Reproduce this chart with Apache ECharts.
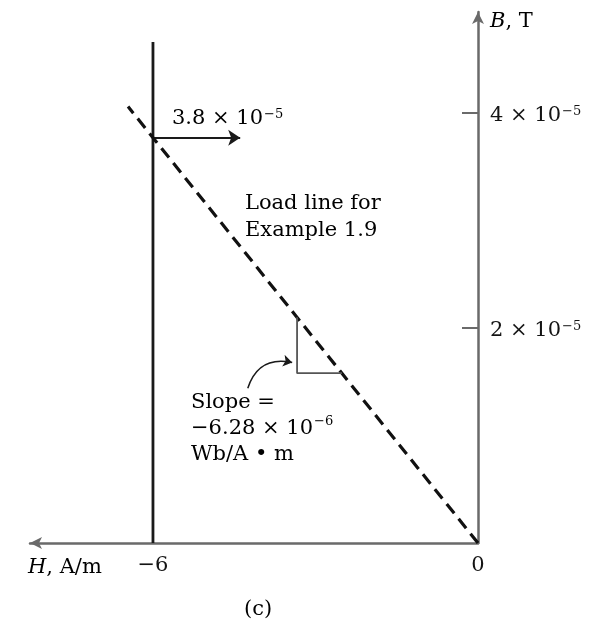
<!DOCTYPE html>
<html><head><meta charset="utf-8">
<script src="https://cdn.jsdelivr.net/npm/echarts@6/dist/echarts.min.js"></script>
<style>html,body{margin:0;padding:0;background:#fff}#c{width:601px;height:626px}</style>
</head><body><div id="c"></div>
<script>
// ---- data ----
const xTickValues = [-6, 0];
const xTickLabels = ['−6', '0'];
const yTickValues = [2e-5, 4e-5];
const yTickMantissa = ['2', '4'];
const yTickExponent = ['−5', '−5'];
const fieldH = [-6, -6];
const fieldB = [0, 4.66e-5];
const loadLineH = [0, -6.46];
const loadLineB = [0, 4.06e-5];
const slopeTriH = [-3.34, -3.34, -2.51];
const slopeTriB = [2.10e-5, 1.58e-5, 1.58e-5];
const markerH = [-6, -4.39];
const markerB = [3.77e-5, 3.77e-5];
const pointerH = [-4.25, -3.43];
const pointerB = [1.44e-5, 1.68e-5];
const xRange = [-8.27, 0];
const yRange = [0, 4.94e-5];

const FONT = '"DejaVu Serif", "Liberation Serif", serif';
const TXT = '#141414';
const FS = 21;
const richBase = {
  n: {fontFamily: FONT, fontSize: FS, color: TXT},
  i: {fontFamily: FONT, fontSize: FS, color: TXT, fontStyle: 'italic'},
  s: {fontFamily: FONT, fontSize: 13, color: TXT, verticalAlign: 'top', padding: [0, 0, 0, 1]}
};
const zip = (a, b) => a.map((v, k) => [v, b[k]]);

const chart = echarts.init(document.getElementById('c'), null, {renderer: 'canvas'});
chart.setOption({
  animation: false,
  backgroundColor: '#fff',
  grid: {left: 30, right: 123, top: 12, bottom: 83, containLabel: false, outerBoundsMode: 'none'},
  xAxis: {
    type: 'value', min: xRange[0], max: xRange[1],
    splitLine: {show: false},
    axisTick: {show: false},
    axisLine: {onZero: true, lineStyle: {color: '#6a6a6a', width: 2.5}, symbol: ['arrow', 'none'], symbolSize: [9, 12]},
    axisLabel: {
      customValues: xTickValues, margin: 12,
      formatter: v => '{n|' + xTickLabels[xTickValues.indexOf(v)] + '}',
      rich: richBase
    }
  },
  yAxis: {
    type: 'value', position: 'right', min: yRange[0], max: yRange[1], interval: 2e-5,
    splitLine: {show: false},
    axisLine: {lineStyle: {color: '#6a6a6a', width: 2.5}, symbol: ['none', 'arrow'], symbolSize: [9, 12]},
    axisTick: {customValues: yTickValues, inside: true, length: 16, lineStyle: {color: '#6a6a6a', width: 2}},
    axisLabel: {
      customValues: yTickValues, margin: 12, padding: [6, 0, 0, 0],
      formatter: v => { const k = yTickValues.findIndex(t => Math.abs(t - v) < 1e-9); return '{n|' + yTickMantissa[k] + ' × 10}{s|' + yTickExponent[k] + '}'; },
      rich: richBase
    }
  },
  series: [
    {type: 'line', data: zip(fieldH, fieldB), symbol: 'none', silent: true,
     lineStyle: {color: '#1a1a1a', width: 2.8}},
    {type: 'line', data: zip(loadLineH, loadLineB), symbol: 'none', silent: true,
     lineStyle: {color: '#111', width: 3.2, type: [12, 7]}},
    {type: 'line', data: zip(slopeTriH, slopeTriB), symbol: 'none', silent: true,
     lineStyle: {color: '#555', width: 1.8}},
    {type: 'lines', coordinateSystem: 'cartesian2d', silent: true,
     symbol: ['none', 'arrow'], symbolSize: 12,
     lineStyle: {color: '#1a1a1a', width: 1.8, curveness: 0, opacity: 1},
     data: [{coords: zip(markerH, markerB)}]},
    {type: 'lines', coordinateSystem: 'cartesian2d', silent: true,
     symbol: ['none', 'arrow'], symbolSize: 9,
     lineStyle: {color: '#1a1a1a', width: 1.5, curveness: 0.45, opacity: 1},
     data: [{coords: zip(pointerH, pointerB)}]}
  ],
  graphic: [
    {type: 'text', left: 172, top: 108, style: {text: '{n|3.8 × 10}{s|−5}', rich: richBase}},
    {type: 'text', left: 245, top: 193, style: {text: '{n|Load line for}\n{n|Example 1.9}', rich: {n: Object.assign({}, richBase.n, {lineHeight: 27})}}},
    {type: 'text', left: 191, top: 392, style: {text: '{n|Slope =}\n{n|−6.28 × 10}{s|−6}\n{n|Wb/A • m}', rich: {n: Object.assign({}, richBase.n, {lineHeight: 26}), s: richBase.s}}},
    {type: 'text', left: 28, top: 557, style: {text: '{i|H}{n|, A/m}', rich: richBase}},
    {type: 'text', left: 490, top: 11, style: {text: '{i|B}{n|, T}', rich: richBase}},
    {type: 'text', left: 244, top: 599, style: {text: '{n|(c)}', rich: richBase}}
  ]
});
</script>
</body></html>
